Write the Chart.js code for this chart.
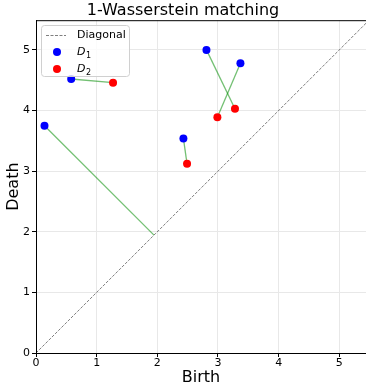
<!DOCTYPE html>
<html>
<head>
<meta charset="utf-8">
<script src="https://cdn.jsdelivr.net/npm/chart.js@4/dist/chart.umd.min.js"></script>
<style>
    html, body { margin: 0; padding: 0; background: #fff; }
    #wrap { width: 366px; height: 390px; position: relative; }
</style>
</head>
<body>
<div id="wrap"><canvas id="matchChart"></canvas></div>
<script>
// persistence diagrams (birth, death)
const d1Birth = [0.14, 0.58, 2.43, 2.81, 3.37];
const d1Death = [3.75, 4.52, 3.54, 5.00, 4.78];
const d2Birth = [1.27, 2.49, 2.99, 3.28];
const d2Death = [4.46, 3.12, 3.89, 4.03];
// index into D2 matched to each D1 point, -1 = matched to the diagonal
const matchD1 = [-1, 0, 1, 3, 2];
const tickValues = [0, 1, 2, 3, 4, 5];
const xMax = 5.44;
const yMax = 5.49;

const d1Points = d1Birth.map((b, i) => ({ x: b, y: d1Death[i] }));
const d2Points = d2Birth.map((b, i) => ({ x: b, y: d2Death[i] }));

const matchSets = matchD1.map((j, i) => {
    const p = d1Points[i];
    const q = j < 0 ? { x: (p.x + p.y) / 2, y: (p.x + p.y) / 2 } : d2Points[j];
    return {
        label: '_match',
        data: [p, q],
        showLine: true,
        borderColor: 'rgba(0,140,0,0.55)',
        borderWidth: 1.3,
        pointRadius: 0,
    };
});

const FONT = 'DejaVu Sans';

const frameAndLegend = {
    id: 'frameAndLegend',
    afterDraw(chart) {
        const { ctx, chartArea: a } = chart;
        ctx.save();
        ctx.strokeStyle = '#000';
        ctx.lineWidth = 1;
        ctx.beginPath();
        ctx.moveTo(a.left, a.top + 0.5);
        ctx.lineTo(a.right, a.top + 0.5);
        ctx.stroke();

        // legend box
        const bx = 41.5, by = 25.5, bw = 88, bh = 51, r = 3;
        ctx.beginPath();
        ctx.roundRect(bx, by, bw, bh, r);
        ctx.fillStyle = 'rgba(255,255,255,0.8)';
        ctx.fill();
        ctx.strokeStyle = '#d0d0d0';
        ctx.stroke();

        const entries = [chart.data.datasets[2], chart.data.datasets[0], chart.data.datasets[1]];
        const rows = [35, 52, 69];
        entries.forEach((ds, k) => {
            const y = rows[k];
            if (ds.pointRadius === 0) {
                ctx.strokeStyle = ds.borderColor;
                ctx.lineWidth = ds.borderWidth;
                ctx.setLineDash(ds.borderDash);
                ctx.beginPath();
                ctx.moveTo(46, y + 0.5);
                ctx.lineTo(66, y + 0.5);
                ctx.stroke();
                ctx.setLineDash([]);
            } else {
                ctx.fillStyle = ds.backgroundColor;
                ctx.beginPath();
                ctx.arc(57, y, 4, 0, Math.PI * 2);
                ctx.fill();
            }
            ctx.fillStyle = '#000';
            ctx.textBaseline = 'middle';
            const label = ds.label;
            if (label.includes('_')) {
                const [base, sub] = label.split('_');
                ctx.font = `italic 11px ${FONT}`;
                ctx.fillText(base, 77, y);
                const w = ctx.measureText(base).width;
                ctx.font = `8px ${FONT}`;
                ctx.fillText(sub, 77 + w + 0.5, y + 3.5);
            } else {
                ctx.font = `11px ${FONT}`;
                ctx.fillText(label, 77, y);
            }
        });
        ctx.restore();
    },
};

new Chart(document.getElementById('matchChart'), {
    type: 'scatter',
    data: {
        datasets: [
            {
                label: 'D_1',
                data: d1Points,
                backgroundColor: '#0000ff',
                borderWidth: 0,
                pointRadius: 4,
            },
            {
                label: 'D_2',
                data: d2Points,
                backgroundColor: '#ff0000',
                borderWidth: 0,
                pointRadius: 4,
            },
            {
                label: 'Diagonal',
                data: [{ x: 0, y: 0 }, { x: 6, y: 6 }],
                showLine: true,
                borderColor: 'rgba(0,0,0,0.5)',
                borderWidth: 1,
                borderDash: [3, 1.5],
                pointRadius: 0,
            },
            ...matchSets,
        ],
    },
    options: {
        responsive: true,
        maintainAspectRatio: false,
        animation: false,
        layout: { padding: 0, autoPadding: false },
        plugins: {
            legend: { display: false },
            tooltip: { enabled: false },
            title: {
                display: true,
                text: '1-Wasserstein matching',
                color: '#000',
                font: { family: FONT, size: 16, weight: 'normal' },
                padding: { top: 1, bottom: 0 },
            },
        },
        scales: {
            x: {
                type: 'linear',
                min: 0,
                max: xMax,
                afterFit: (s) => { s.height = 37; s.paddingLeft = 0; s.paddingRight = 0; },
                afterBuildTicks: (s) => { s.ticks = tickValues.map((v) => ({ value: v })); },
                ticks: { color: '#000', padding: 0, font: { family: FONT, size: 11 }, maxRotation: 0 },
                grid: { color: '#e8e8e8', tickColor: '#000', tickLength: 4 },
                border: { color: '#000', width: 1 },
                title: {
                    display: true,
                    text: 'Birth',
                    color: '#000',
                    font: { family: FONT, size: 16 },
                    padding: { top: 0, bottom: 3 },
                },
            },
            y: {
                type: 'linear',
                min: 0,
                max: yMax,
                afterFit: (s) => { s.width = 36; s.paddingTop = 0; s.paddingBottom = 0; },
                afterBuildTicks: (s) => { s.ticks = tickValues.map((v) => ({ value: v })); },
                ticks: { color: '#000', padding: 2, font: { family: FONT, size: 11 } },
                grid: { color: '#e8e8e8', tickColor: '#000', tickLength: 4 },
                border: { color: '#000', width: 1 },
                title: {
                    display: true,
                    text: 'Death',
                    color: '#000',
                    font: { family: FONT, size: 16 },
                    padding: { top: 4, bottom: 0 },
                },
            },
        },
    },
    plugins: [frameAndLegend],
});
</script>
</body>
</html>
